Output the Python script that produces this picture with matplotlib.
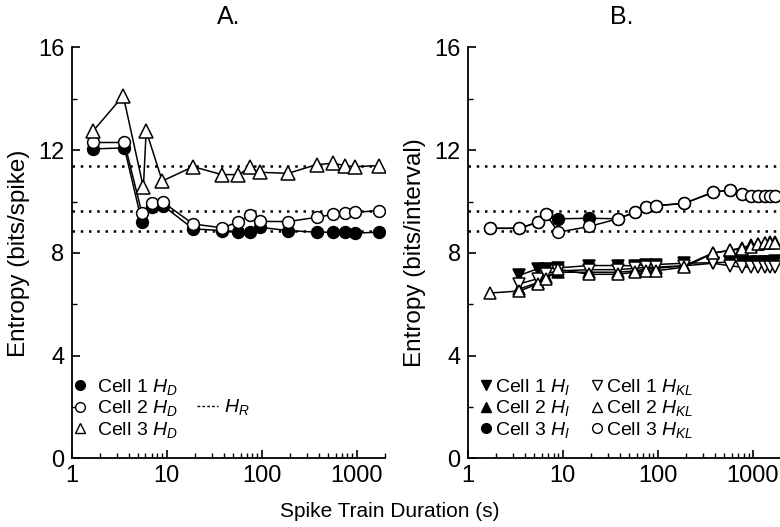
import numpy as np
import matplotlib
matplotlib.use("Agg")
import matplotlib.pyplot as plt
from matplotlib.lines import Line2D

plt.rcParams['font.family'] = ['Liberation Sans', 'DejaVu Sans']
plt.rcParams['mathtext.fontset'] = 'custom'
plt.rcParams['mathtext.rm'] = 'Liberation Sans'
plt.rcParams['mathtext.it'] = 'Liberation Sans:italic'

# ---- panel A data
xA = [1.7, 3.6, 5.5, 7.1, 9.2, 19, 38, 57, 76, 95, 190, 380, 570, 760, 950, 1710]
xA3 = [1.7, 3.5, 5.7, 6.1, 9.0, 19, 38, 57, 76, 95, 190, 380, 570, 760, 950, 1710]
cell1_HD = [12.05, 12.09, 9.2, 9.78, 9.84, 8.94, 8.87, 8.81, 8.81, 9.0, 8.87, 8.81, 8.81, 8.81, 8.77, 8.81]
cell2_HD = [12.30, 12.30, 9.55, 9.95, 9.97, 9.13, 8.98, 9.2, 9.48, 9.23, 9.22, 9.39, 9.5, 9.55, 9.58, 9.65]
cell3_HD = [12.76, 14.12, 10.55, 12.76, 10.8, 11.36, 11.05, 11.05, 11.33, 11.14, 11.1, 11.44, 11.49, 11.4, 11.36, 11.4]
H_R = [11.4, 9.63, 8.85]

# ---- panel B data
xB = [1.7, 3.5, 5.5, 6.6, 9.0, 19, 38, 57, 76, 95, 190, 380, 570, 760, 950, 1140, 1330, 1520, 1710]
cell1_HI = [7.13, 7.39, 7.39, 7.42, 7.51, 7.51, 7.5, 7.55, 7.55, 7.6, 7.62, 7.64, 7.64, 7.64, 7.65, 7.66, 7.66, 7.67]
cell2_HI = [6.6, 6.85, 7.05, 7.25, 7.25, 7.25, 7.3, 7.38, 7.4, 7.5, 8.0, 8.1, 8.2, 8.3, 8.35, 8.4, 8.42, 8.42]
cell3_HI = [8.96, 8.96, 9.2, 9.52, 9.33, 9.35, 9.33, 9.58, 9.78, 9.84, 9.93, 10.36, 10.45, 10.3, 10.2, 10.2, 10.2, 10.2, 10.22]
cell1_HKL = [6.8, 7.0, 7.2, 7.3, 7.35, 7.35, 7.4, 7.45, 7.45, 7.5, 7.6, 7.5, 7.45, 7.45, 7.45, 7.45, 7.45, 7.45]
cell2_HKL = [6.44, 6.52, 6.8, 7.0, 7.36, 7.17, 7.17, 7.25, 7.3, 7.3, 7.45, 7.99, 8.1, 8.16, 8.22, 8.33, 8.38, 8.38, 8.38]
cell3_HKL = [8.96, 8.96, 9.2, 9.52, 8.81, 9.03, 9.33, 9.58, 9.78, 9.84, 9.93, 10.36, 10.45, 10.3, 10.2, 10.2, 10.2, 10.2, 10.22]

lw = 1.1
mew = 1.1
dots = (0, (1, 2.3))

fig = plt.figure(figsize=(7.8, 5.27), dpi=100)
axA = fig.add_axes([0.0917, 0.13, 0.4023, 0.78])
axB = fig.add_axes([0.5996, 0.13, 0.4023, 0.78])


def style(ax):
    ax.set_xscale('log')
    ax.set_xlim(1, 2000)
    ax.set_ylim(0, 16)
    ax.spines['top'].set_visible(False)
    ax.spines['right'].set_visible(False)
    for s in ['left', 'bottom']:
        ax.spines[s].set_linewidth(1.3)
    ax.set_yticks([0, 4, 8, 12, 16])
    ax.set_yticks([2, 6, 10, 14], minor=True)
    ax.set_xticks([1, 10, 100, 1000])
    ax.set_xticklabels(['1', '10', '100', '1000'])
    ax.tick_params(which='major', direction='in', length=6, width=1.2, labelsize=17, pad=5)
    ax.tick_params(which='minor', direction='in', length=3.5, width=1.0)
    for h in H_R:
        ax.axhline(h, color='black', lw=1.8, linestyle=dots, zorder=1)


style(axA)
style(axB)

# panel A
axA.plot(xA, cell1_HD, '-o', color='black', lw=lw, ms=8.5, mfc='black', mec='black', mew=mew, zorder=3)
axA.plot(xA, cell2_HD, '-o', color='black', lw=lw, ms=8.5, mfc='white', mec='black', mew=mew, zorder=4)
axA.plot(xA3, cell3_HD, '-^', color='black', lw=lw, ms=10, mfc='white', mec='black', mew=mew, zorder=5)

# panel B
axB.plot(xB[1:], cell1_HI, '-v', color='black', lw=lw, ms=9, mfc='black', mec='black', mew=mew, zorder=3)
axB.plot(xB[1:], cell2_HI, '-^', color='black', lw=lw, ms=9, mfc='black', mec='black', mew=mew, zorder=3)
axB.plot(xB, cell3_HI, '-o', color='black', lw=lw, ms=8.5, mfc='black', mec='black', mew=mew, zorder=3)
axB.plot(xB[1:], cell1_HKL, '-v', color='black', lw=lw, ms=9, mfc='white', mec='black', mew=mew, zorder=4)
axB.plot(xB, cell2_HKL, '-^', color='black', lw=lw, ms=9, mfc='white', mec='black', mew=mew, zorder=4)
axB.plot(xB, cell3_HKL, '-o', color='black', lw=lw, ms=8.5, mfc='white', mec='black', mew=mew, zorder=4)

# legends
def mk(m, fc):
    return Line2D([], [], marker=m, ls='none', ms=7, mfc=fc, mec='black', mew=1.0)

blank = Line2D([], [], ls='none')
hr = Line2D([], [], color='black', lw=1.0, ls=(0, (2, 1.5)))
handlesA = [mk('o', 'black'), mk('o', 'white'), mk('^', 'white'), blank, hr, blank]
labelsA = ['Cell 1 $H_D$', 'Cell 2 $H_D$', 'Cell 3 $H_D$', '', '$H_R$', '']
axA.legend(handlesA, labelsA, ncol=2, loc='lower left', bbox_to_anchor=(-0.05, 0.012),
           frameon=False, fontsize=14, handlelength=1.1, handletextpad=0.3,
           columnspacing=1.0, labelspacing=0.08, borderaxespad=0.3)

handlesB = [mk('v', 'black'), mk('^', 'black'), mk('o', 'black'),
            mk('v', 'white'), mk('^', 'white'), mk('o', 'white')]
labelsB = ['Cell 1 $H_I$', 'Cell 2 $H_I$', 'Cell 3 $H_I$',
           'Cell 1 $H_{KL}$', 'Cell 2 $H_{KL}$', 'Cell 3 $H_{KL}$']
axB.legend(handlesB, labelsB, ncol=2, loc='lower left', bbox_to_anchor=(-0.008, 0.012),
           frameon=False, fontsize=14, handlelength=0.7, handletextpad=0.15,
           columnspacing=1.0, labelspacing=0.08, borderaxespad=0.3)

axA.set_ylabel('Entropy (bits/spike)', fontsize=17.5, labelpad=6)
axB.set_ylabel('Entropy (bits/interval)', fontsize=17.5, labelpad=6)
axA.set_title('A.', fontsize=18, pad=17)
axB.set_title('B.', fontsize=18, pad=17, x=0.49)
fig.text(0.5, 0.012, 'Spike Train Duration (s)', ha='center', va='bottom', fontsize=15)

fig.savefig('out.png', dpi=100)
